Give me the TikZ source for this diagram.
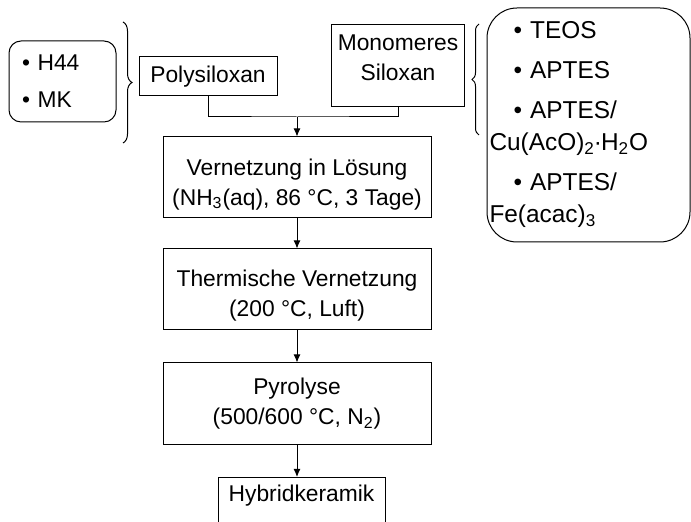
\documentclass[tikz,border=0pt]{standalone}
\usepackage{fontspec}
\setmainfont{Liberation Sans}
\usetikzlibrary{decorations.pathreplacing, arrows.meta}

\tikzset{
  stepbox/.style={draw, line width=0.5pt, align=center,
    font=\fontsize{11.4}{15}\selectfont},
  listbox/.style={draw, line width=0.5pt, align=left,
    font=\fontsize{11.4}{15}\selectfont},
  curly/.style={decorate, line width=0.5pt}
}

\begin{document}
\begin{tikzpicture}[x=0.5pt, y=-0.5pt, >={Latex[length=4pt, width=3.5pt]}, line width=0.5pt]
    \clip (0, 0) rectangle (691, 522);

    % polymer precursors
    \node[listbox, rounded corners=6pt, minimum width=53.5pt, minimum height=40.5pt,
      text width=40.5pt, inner xsep=6.5pt](binder) at (62.5, 81.5)
      {\textbullet\ H44\\[3.5pt]\textbullet\ MK};
    \draw [curly, decoration={brace, amplitude=4.5pt}] (123, 22) -- (123, 143);

    % polysiloxan
    \node[stepbox, minimum width=69pt, minimum height=19.5pt](poly) at (208, 76.5)
      {Polysiloxan};

    % monomeres siloxan
    \node[stepbox, minimum width=65pt, inner ysep=0pt,
      text height=28pt, text depth=13pt](mono) at (398, 24)
      [anchor=north]{Monomeres\\Siloxan};

    % monomer list
    \draw [curly, decoration={brace, amplitude=3.5pt}] (479, 135) -- (479, 24);
    \node[listbox, rounded corners=15pt, minimum width=101.5pt, minimum height=117pt,
      text width=99pt, inner xsep=1pt, font=\fontsize{12.2}{16}\selectfont](monolist)
      at (588.5, 125)
      {\hspace*{12pt}\textbullet\ TEOS\\[4pt]
       \hspace*{12pt}\textbullet\ APTES\\[4pt]
       \hspace*{12pt}\textbullet\ APTES/\\
       Cu(AcO)\textsubscript{2}\kern-0.5pt·\kern-0.5pt H\textsubscript{2}O\\[4pt]
       \hspace*{12pt}\textbullet\ APTES/\\
       Fe(acac)\textsubscript{3}};

    % process steps
    \node[stepbox, minimum width=134pt, minimum height=40.5pt,
      text height=30pt](vern) at (297, 177.5)
      {Vernetzung in Lösung\\(NH\textsubscript{3}(aq), 86 °C, 3 Tage)};
    \node[stepbox, minimum width=134pt, minimum height=40.5pt,
      text height=29.5pt](therm) at (297, 289.5)
      {Thermische Vernetzung\\(200 °C, Luft)};
    \node[stepbox, minimum width=134pt, minimum height=41pt](pyro) at (297, 404)
      {Pyrolyse\\(500/600 °C, N\textsubscript{2})};
    \node[stepbox, minimum width=83.5pt, inner ysep=0pt,
      text height=12pt, text depth=16pt](hybrid) at (301.5, 477)
      [anchor=north]{Hybridkeramik};

    % connectors
    \coordinate (join) at (297, 117);
    \draw (poly.south) |- (join) -| (mono.south);
    \draw [->] (join) -- (vern.north);
    \draw [->] (vern.south) -- (therm.north);
    \draw [->] (therm.south) -- (pyro.north);
    \draw [->] (pyro.south) -- (pyro.south |- hybrid.north);
\end{tikzpicture}
\end{document}
